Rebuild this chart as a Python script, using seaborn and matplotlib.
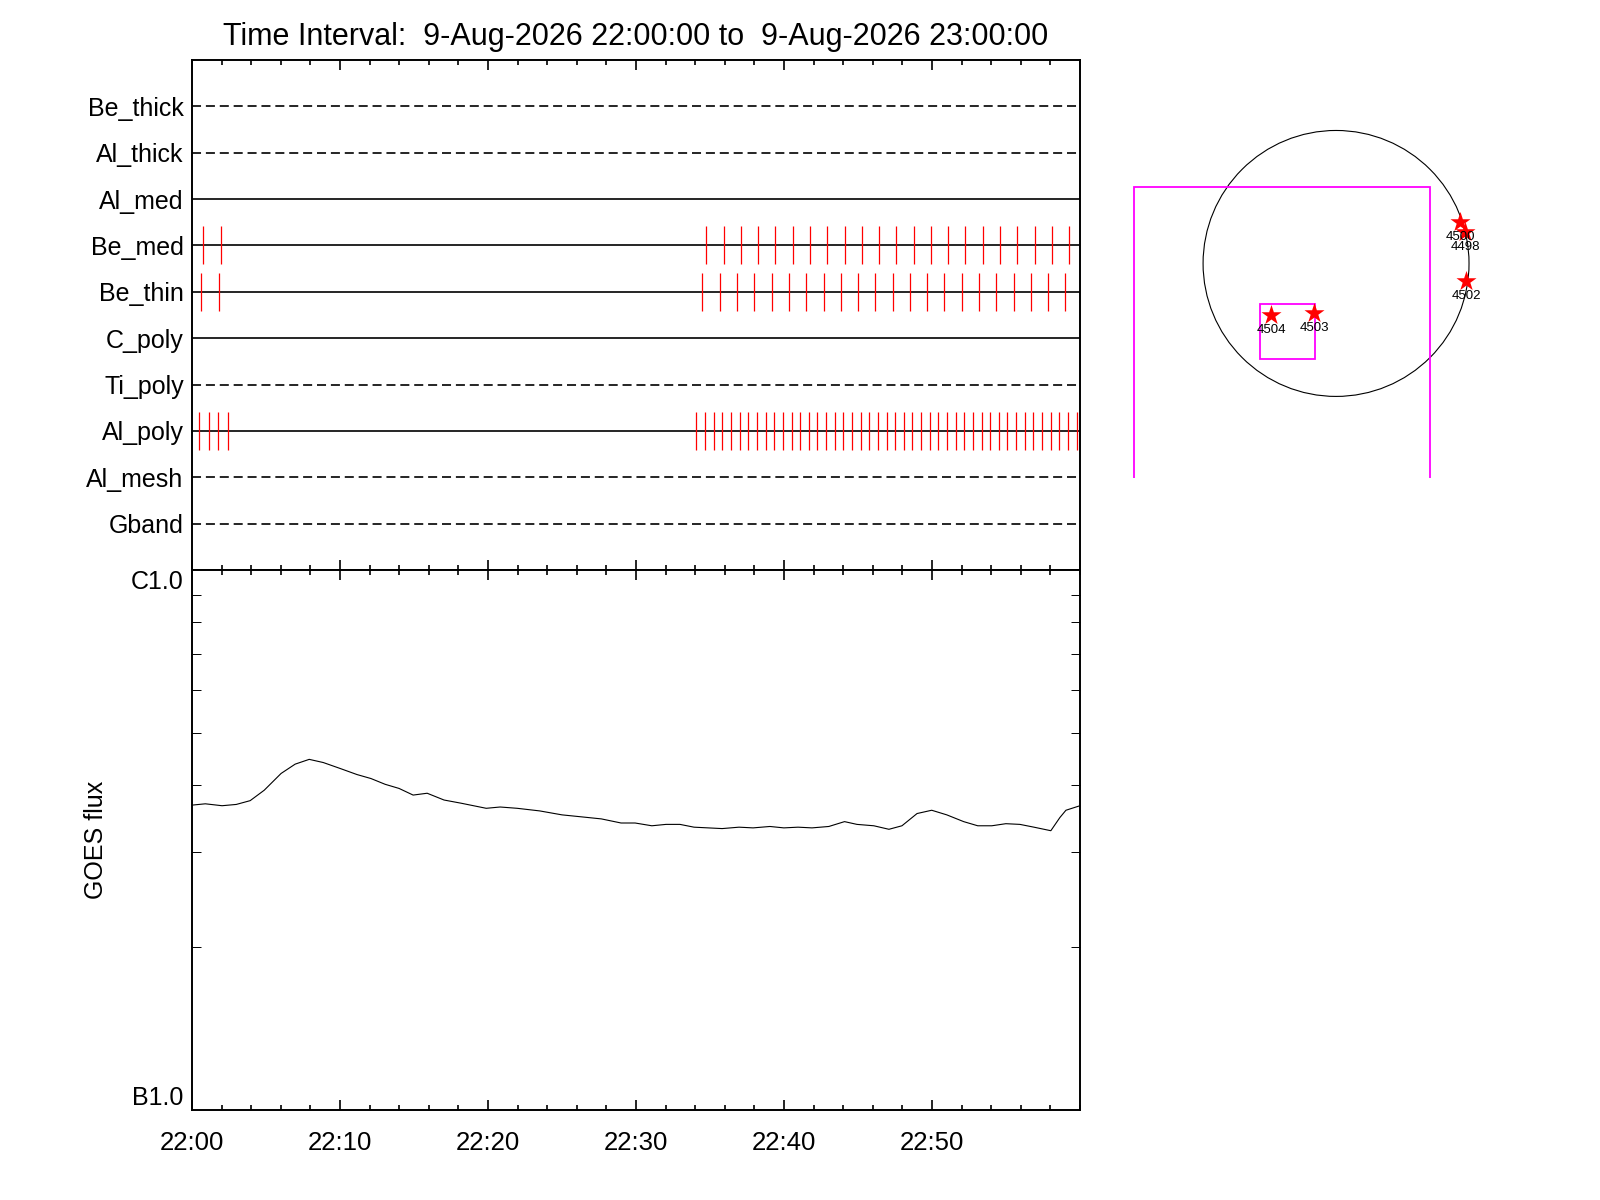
import matplotlib
matplotlib.use("Agg")
import matplotlib.pyplot as plt
import seaborn as sns
import pandas as pd
from matplotlib.patches import Circle, Rectangle
from matplotlib.ticker import MultipleLocator, NullFormatter, LogLocator

# channel rows (top to bottom) and their line style
channels = ['Be_thick', 'Al_thick', 'Al_med', 'Be_med', 'Be_thin',
            'C_poly', 'Ti_poly', 'Al_poly', 'Al_mesh', 'Gband']
channel_dashed = [True, True, False, False, False, False, True, False, True, True]

# observation times, minutes after 22:00
be_med_times = [0.74, 1.97, 34.75, 35.97, 37.12, 38.26, 39.41, 40.63, 41.78, 42.93,
                44.14, 45.29, 46.44, 47.59, 48.80, 49.95, 51.10, 52.25, 53.47, 54.61,
                55.76, 56.97, 58.13, 59.28]
be_thin_times = [0.60, 1.85, 34.48, 35.70, 36.84, 37.99, 39.21, 40.36, 41.51, 42.72,
                 43.87, 45.02, 46.17, 47.39, 48.53, 49.68, 50.83, 52.05, 53.20, 54.35,
                 55.56, 56.71, 57.86, 59.01]
al_poly_times = [0.50, 1.15, 1.77, 2.40,
                 34.07, 34.68, 35.29, 35.83, 36.44, 37.05, 37.59, 38.20, 38.80, 39.34,
                 39.95, 40.56, 41.10, 41.71, 42.25, 42.86, 43.47, 44.01, 44.61, 45.22,
                 45.76, 46.37, 46.98, 47.52, 48.13, 48.67, 49.28, 49.89, 50.43, 51.03,
                 51.64, 52.18, 52.79, 53.40, 53.94, 54.55, 55.09, 55.70, 56.30, 56.84,
                 57.45, 58.06, 58.60, 59.21, 59.82]
obs_times = {'Be_med': be_med_times, 'Be_thin': be_thin_times, 'Al_poly': al_poly_times}

# GOES flux curve
goes_minutes = [0.03, 0.90, 2.03, 2.99, 3.93, 4.88, 6.02, 6.97, 7.92, 8.87,
                10.01, 11.15, 12.09, 13.05, 13.99, 14.94, 15.89, 17.03, 18.17, 19.88,
                20.82, 21.97, 23.49, 25.00, 26.33, 27.66, 28.99, 29.94, 31.07, 32.03,
                32.97, 33.92, 34.87, 35.82, 36.96, 37.91, 39.05, 39.99, 40.95, 41.89,
                43.03, 44.09, 44.93, 46.07, 47.09, 47.97, 48.99, 49.98, 51.00, 52.14,
                53.09, 54.04, 54.99, 55.94, 56.89, 58.03, 58.64, 59.05, 60.00]
goes_flux_b = [3.67, 3.69, 3.66, 3.68, 3.74, 3.91, 4.20, 4.37, 4.46, 4.40,
               4.29, 4.18, 4.11, 4.01, 3.94, 3.83, 3.86, 3.75, 3.70, 3.62,
               3.64, 3.62, 3.58, 3.52, 3.49, 3.46, 3.40, 3.40, 3.36, 3.38,
               3.38, 3.34, 3.33, 3.32, 3.34, 3.33, 3.35, 3.33, 3.34, 3.33,
               3.35, 3.42, 3.38, 3.36, 3.31, 3.36, 3.54, 3.59, 3.52, 3.42,
               3.36, 3.36, 3.39, 3.38, 3.34, 3.29, 3.48, 3.59, 3.66]

tick_minutes = [0, 10, 20, 30, 40, 50]
tick_labels = ['22:00', '22:10', '22:20', '22:30', '22:40', '22:50']

# active regions on the disk (arcsec)
ar_numbers = ['4504', '4503', '4498', '4500', '4502']
ar_x = [-469, -159, 931, 895, 939]
ar_y = [-372, -357, 227, 300, -126]
sun_radius = 960
fov_big = [-1458, -2200, 2137, 2752]   # x0, y0, width, height
fov_small = [-549, -689, 397, 397]

sns.set_theme(style="ticks", rc={"axes.edgecolor": "black", "axes.linewidth": 1.4,
                                 "xtick.color": "black", "ytick.color": "black",
                                 "text.color": "black", "axes.labelcolor": "black",
                                 "lines.scale_dashes": False})
plt.rcParams['font.family'] = ['Liberation Sans', 'DejaVu Sans']

fig = plt.figure(figsize=(16, 12), dpi=100)
ax1 = fig.add_axes([0.12, 0.525, 0.555, 0.425])
ax2 = fig.add_axes([0.12, 0.075, 0.555, 0.45])
ax3 = fig.add_axes([0.69375, 0.60167, 0.2875, 0.315])

# ---- channel timeline
n = len(channels)
for i, ch in enumerate(channels):
    ypos = n - i
    ls = (0, (6.5, 3.5)) if channel_dashed[i] else '-'
    ax1.plot([0, 60], [ypos, ypos], color='black', lw=1.2, ls=ls)
    if ch in obs_times:
        ax1.vlines(obs_times[ch], ypos - 0.41, ypos + 0.41, color='red', lw=0.9)

ax1.set_xlim(0, 60)
ax1.set_ylim(0, n + 1)
ax1.set_yticks([n - i for i in range(n)])
ax1.set_yticklabels(channels, fontsize=18)
ax1.tick_params(axis='y', length=0, pad=6)
ax1.xaxis.set_major_locator(MultipleLocator(10))
ax1.xaxis.set_minor_locator(MultipleLocator(2))
ax1.tick_params(axis='x', which='both', top=True, bottom=True, direction='in',
                labelbottom=False, width=1.2)
ax1.tick_params(axis='x', which='major', length=7)
ax1.tick_params(axis='x', which='minor', length=3.6)
ax1.set_title('Time Interval:  9-Aug-2026 22:00:00 to  9-Aug-2026 23:00:00',
              fontsize=22, pad=11)

# ---- GOES flux
goes = pd.DataFrame({'minute': goes_minutes, 'flux': [v * 1e-7 for v in goes_flux_b]})
sns.lineplot(data=goes, x='minute', y='flux', ax=ax2, color='black', lw=0.8)
ax2.set_yscale('log')
ax2.set_xlim(0, 60)
ax2.set_ylim(1e-7, 1e-6)
ax2.set_yticks([1e-7, 1e-6])
ax2.set_yticklabels(['B1.0', 'C1.0'], fontsize=18)
ylabs = ax2.get_yticklabels()
ylabs[0].set_va('bottom')
ylabs[1].set_va('top')
ax2.yaxis.set_minor_locator(LogLocator(base=10, subs=range(2, 10)))
ax2.yaxis.set_minor_formatter(NullFormatter())
ax2.tick_params(axis='y', which='major', length=0, pad=6)
ax2.tick_params(axis='y', which='minor', left=True, right=True, direction='in',
                length=6.5, width=0.7)
ax2.set_xticks(tick_minutes)
ax2.set_xticklabels(tick_labels, fontsize=18.5)
ax2.xaxis.set_minor_locator(MultipleLocator(2))
ax2.tick_params(axis='x', which='both', top=True, bottom=True, direction='in',
                width=1.2, pad=15)
ax2.tick_params(axis='x', which='major', length=7)
ax2.tick_params(axis='x', which='minor', length=3.6)
ax2.set_xlabel('')
ax2.set_ylabel('GOES flux', fontsize=18)
ax2.yaxis.set_label_coords(-0.095, 0.5)

# ---- solar disk map
ax3.set_xlim(-1632, 1689)
ax3.set_ylim(-1549, 1180)
ax3.axis('off')
ax3.add_patch(Circle((0, 0), sun_radius, fill=False, color='black', lw=0.8))
ax3.add_patch(Rectangle((fov_big[0], fov_big[1]), fov_big[2], fov_big[3],
                        fill=False, edgecolor='magenta', lw=1.3))
ax3.add_patch(Rectangle((fov_small[0], fov_small[1]), fov_small[2], fov_small[3],
                        fill=False, edgecolor='magenta', lw=1.3))
sns.scatterplot(x=ar_x, y=ar_y, ax=ax3, marker='*', s=230, color='red',
                linewidth=0, zorder=3)
for num, x, y in zip(ar_numbers, ar_x, ar_y):
    ax3.annotate(num, (x, y), xytext=(0, -11), textcoords='offset points',
                 ha='center', va='center', fontsize=9.5)

fig.savefig('out.png', dpi=100)
